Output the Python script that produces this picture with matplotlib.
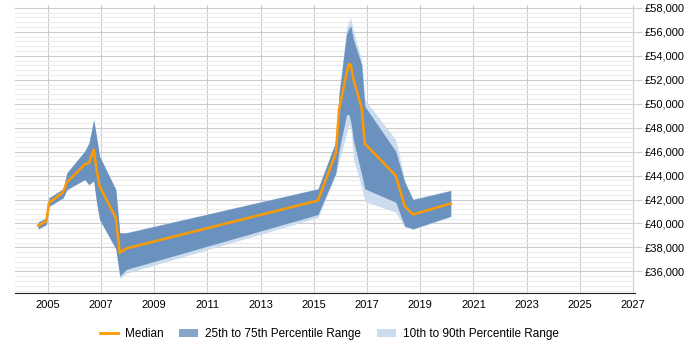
import numpy as np
import matplotlib.pyplot as plt
from matplotlib.patches import Patch
from matplotlib.lines import Line2D
from matplotlib.ticker import FuncFormatter, MultipleLocator

plt.rcParams['font.family'] = ['Liberation Sans', 'DejaVu Sans']

# ##### DATA #####
years = [2004.64, 2004.95, 2005.05, 2005.58, 2005.72, 2006.39, 2006.55, 2006.73, 2006.83,
         2006.95, 2007.56, 2007.71, 2007.96, 2015.16, 2015.83, 2015.95, 2016.23, 2016.32,
         2016.39, 2016.5, 2016.8, 2016.92, 2018.08, 2018.42, 2018.73, 2020.15]
p10 = [39500, 39850, 41400, 42100, 42800, 43650, 43200, 43500, 41800,
       40300, 37850, 35400, 35850, 40500, 44100, 45200, 47500, 48250,
       48000, 45330, 43000, 41860, 40940, 39700, 39500, 40550]
p25 = [39560, 39920, 41440, 42140, 42830, 43670, 43250, 43580, 41860,
       40330, 37890, 35610, 36170, 40750, 44220, 46100, 49080, 49100,
       48500, 46860, 44080, 42890, 41780, 39780, 39560, 40610]
median = [39830, 40190, 41720, 42610, 43440, 44920, 45060, 46170, 44600,
          43110, 40470, 37560, 37920, 41920, 45890, 49500, 52500, 53310,
          53250, 52000, 49640, 46670, 44000, 41440, 40750, 41670]
p75 = [40110, 40470, 42140, 42890, 44220, 46030, 46720, 48670, 47300,
       45610, 42830, 39220, 39220, 42890, 46860, 50800, 55800, 56300,
       56500, 55300, 53250, 49780, 46030, 43440, 42000, 42750]
p90 = [40150, 40500, 42180, 42920, 44250, 46060, 46750, 48700, 47350,
       45650, 42860, 39250, 39250, 42920, 46900, 51000, 56300, 56900,
       57140, 56000, 53670, 50330, 47000, 43600, 42050, 42780]

c_dark = '#6b92be'
c_light = '#cadcee'
c_med = '#ff9900'

##### PLOT #####
fig = plt.figure(figsize=(7, 3.5), dpi=100)
ax = fig.add_axes([0.021, 0.163, 0.886, 0.823])

ax.fill_between(years, p10, p90, color=c_light, lw=0, zorder=2)
ax.fill_between(years, p25, p75, color=c_dark, lw=0, zorder=3)
ax.plot(years, median, color=c_med, lw=1.8, zorder=4)

ax.set_xlim(2003.76, 2027.07)
ax.set_ylim(34200, 58250)

ax.set_xticks(np.arange(2005, 2028, 2))
ax.yaxis.set_major_locator(MultipleLocator(2000))
ax.yaxis.set_minor_locator(MultipleLocator(400))
ax.yaxis.set_major_formatter(FuncFormatter(lambda v, p: f"£{int(v):,}"))
ax.yaxis.tick_right()

ax.set_axisbelow(True)
ax.grid(axis='x', which='major', color='#cccccc', lw=0.8)
ax.grid(axis='y', which='major', color='#cccccc', lw=0.8)
ax.grid(axis='y', which='minor', color='#ececec', lw=0.8)

for s in ['left', 'right', 'top']:
    ax.spines[s].set_visible(False)
ax.spines['bottom'].set_color('#222222')

ax.tick_params(axis='x', length=0, labelsize=8, pad=5)
ax.tick_params(axis='y', which='major', length=5, color='#cccccc', labelsize=8, pad=2)
ax.tick_params(axis='y', which='minor', length=0)

##### LEGEND #####
handles = [Line2D([0], [0], color=c_med, lw=2, label='Median'),
           Patch(facecolor='#86a5c8', label='25th to 75th Percentile Range'),
           Patch(facecolor=c_light, label='10th to 90th Percentile Range')]
fig.legend(handles=handles, loc='center', bbox_to_anchor=(0.47, 0.045), ncol=3,
           frameon=False, fontsize=8.5, handlelength=1.6, columnspacing=1.3, handletextpad=0.6)

plt.savefig('out.png', dpi=100)
